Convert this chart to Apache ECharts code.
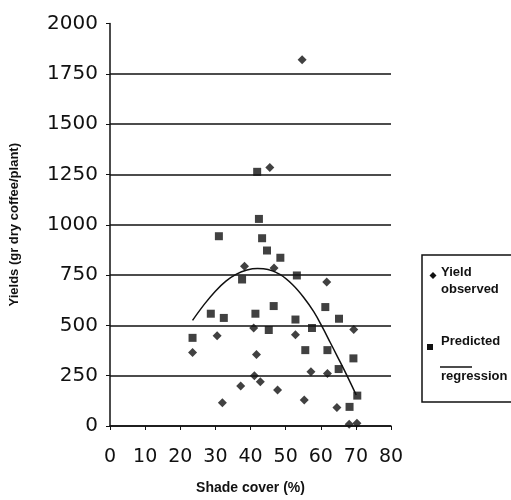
<!DOCTYPE html>
<html>
<head>
<meta charset="utf-8">
<script src="https://cdn.jsdelivr.net/npm/echarts@6/dist/echarts.min.js"></script>
<style>
  html, body { margin: 0; padding: 0; background: #fff; }
  #chart { width: 511px; height: 500px; }
</style>
</head>
<body>
<div id="chart"></div>
<script>
// shade cover (%) vs yield
const xTicks = [0, 10, 20, 30, 40, 50, 60, 70, 80]
const yTicks = [0, 250, 500, 750, 1000, 1250, 1500, 1750, 2000]

const observed = [
  [54.7, 1820], [45.5, 1284], [38.3, 794], [46.7, 785], [61.7, 715],
  [23.5, 365], [30.5, 448], [32.0, 116], [40.9, 487], [41.7, 355],
  [41.1, 250], [42.8, 220], [37.2, 199], [47.7, 179], [52.8, 454],
  [57.2, 270], [55.3, 129], [61.9, 261], [64.6, 92], [69.4, 479],
  [68.1, 9], [70.3, 14]
]

const predicted = [
  [41.9, 1263], [42.4, 1029], [43.3, 933], [44.7, 872], [48.5, 836],
  [31.0, 943], [37.6, 728], [53.2, 748], [28.7, 558], [32.4, 537],
  [41.4, 558], [46.6, 596], [61.3, 591], [52.8, 529], [65.2, 533],
  [45.2, 477], [57.5, 487], [23.5, 438], [55.6, 377], [61.9, 377],
  [69.3, 336], [65.1, 283], [70.4, 151], [68.2, 95]
]

// regression curve
const regression = [
  [23.5, 525], [27, 608], [30, 670], [33, 720], [36, 755],
  [39, 775], [42, 782], [45, 778], [48.5, 752], [52, 702],
  [55.1, 640], [58, 568], [60.5, 490], [62.7, 415], [64.6, 350],
  [67.4, 253], [70.1, 154]
]

const ink = '#111'
const chart = echarts.init(document.getElementById('chart'))

// hide the gridline at the top tick (2000)
const splitColors = yTicks.map((v) => (v === 2000 ? 'rgba(0,0,0,0)' : ink))

const options = {
  backgroundColor: '#fff',
  animation: false,
  grid: { left: 109, right: 120, top: 23.5, bottom: 72, containLabel: false },
  xAxis: {
    type: 'value',
    min: xTicks[0],
    max: xTicks[xTicks.length - 1],
    interval: 10,
    name: 'Shade cover (%)',
    nameLocation: 'middle',
    nameGap: 55,
    nameTextStyle: { fontFamily: 'Liberation Sans', fontWeight: 'bold', fontSize: 14, color: ink },
    axisLine: { lineStyle: { color: ink, width: 1.5 } },
    axisTick: { show: true, length: 4, lineStyle: { color: ink } },
    axisLabel: { fontFamily: 'DejaVu Sans', fontSize: 19, color: ink, margin: 22 },
    splitLine: { show: false }
  },
  yAxis: {
    type: 'value',
    min: yTicks[0],
    max: yTicks[yTicks.length - 1],
    interval: 250,
    name: 'Yields (gr dry coffee/plant)',
    nameLocation: 'middle',
    nameGap: 89,
    nameTextStyle: { fontFamily: 'Liberation Sans', fontWeight: 'bold', fontSize: 13, color: ink },
    axisLine: { show: true, lineStyle: { color: ink, width: 1.5 } },
    axisTick: { show: true, length: 4, lineStyle: { color: ink } },
    axisLabel: {
      fontFamily: 'DejaVu Sans', fontSize: 20, color: ink, margin: 12,
      formatter: (v) => String(v)
    },
    splitLine: { show: true, lineStyle: { color: splitColors, width: 1.5 } }
  },
  series: [
    {
      name: 'Yield observed',
      type: 'scatter',
      symbol: 'diamond',
      symbolSize: 9,
      itemStyle: { color: ink },
      data: observed
    },
    {
      name: 'Predicted',
      type: 'scatter',
      symbol: 'rect',
      symbolSize: 8,
      itemStyle: { color: ink },
      data: predicted
    },
    {
      name: 'regression',
      type: 'line',
      smooth: 0.4,
      showSymbol: false,
      lineStyle: { color: ink, width: 1.5 },
      data: regression
    }
  ],
  // legend box drawn by hand, it is cut off at the right edge in the original
  graphic: [
    {
      type: 'rect',
      shape: { x: 422, y: 255, width: 110, height: 147 },
      style: { fill: '#fff', stroke: ink, lineWidth: 1.5 }
    },
    {
      type: 'polygon',
      shape: { points: [[433, 272], [436.5, 275.5], [433, 279], [429.5, 275.5]] },
      style: { fill: ink }
    },
    {
      type: 'text',
      left: 441, top: 264,
      style: { text: 'Yield\nobserved', font: 'bold 13px "Liberation Sans"', fill: ink, lineHeight: 17 }
    },
    {
      type: 'rect',
      shape: { x: 427, y: 344, width: 6, height: 6 },
      style: { fill: ink }
    },
    {
      type: 'text',
      left: 441, top: 335,
      style: { text: 'Predicted', font: 'bold 13px "Liberation Sans"', fill: ink }
    },
    {
      type: 'line',
      shape: { x1: 440, y1: 367, x2: 472, y2: 367 },
      style: { stroke: ink, lineWidth: 1.5 }
    },
    {
      type: 'text',
      left: 441, top: 370,
      style: { text: 'regression', font: 'bold 13px "Liberation Sans"', fill: ink }
    }
  ]
}

chart.setOption(options)
</script>
</body>
</html>
